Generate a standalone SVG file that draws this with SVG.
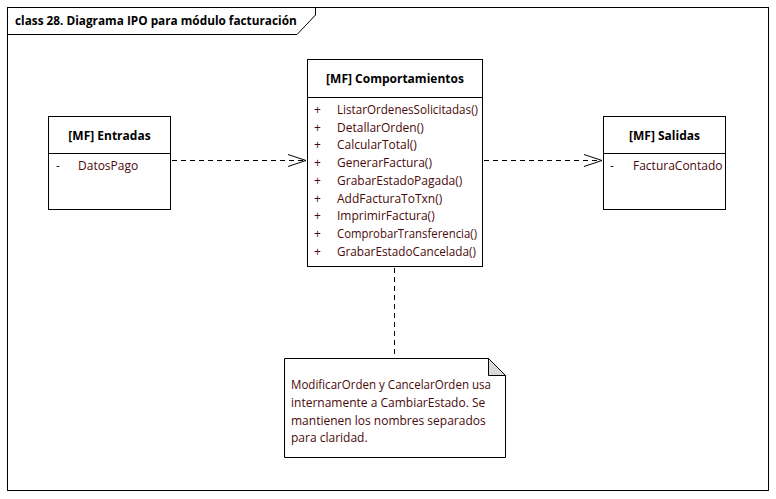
<svg xmlns="http://www.w3.org/2000/svg" width="776" height="499" viewBox="0 0 776 499">
<defs>
<style>
.box{fill:#fff;stroke:#000;stroke-width:1}
.hdr{font-family:"Open Sans","Liberation Sans",sans-serif;font-size:12px;font-weight:bold;fill:#000;text-anchor:middle}
.it{font-family:"Open Sans","Liberation Sans",sans-serif;font-size:12px;fill:#4a0a0a}
.title{font-family:"Open Sans","Liberation Sans",sans-serif;font-size:11.8px;font-weight:bold;fill:#000}
.dash{fill:none;stroke:#000;stroke-width:1;stroke-dasharray:5,4}
</style>
<marker id="open" markerWidth="20" markerHeight="14" refX="18" refY="7" orient="auto" markerUnits="userSpaceOnUse">
<path d="M0,1 L18,7 L0,13" fill="none" stroke="#000" stroke-width="1"/>
</marker>
</defs>
<rect x="0" y="0" width="776" height="499" fill="#fff"/>
<g id="frame">
<rect x="7.5" y="7.5" width="761" height="483" fill="none" stroke="#000"/>
<path d="M7.5,34.5 H297 L315.5,15 V7.5" fill="none" stroke="#000"/>
<text class="title" x="15" y="25">class 28. Diagrama IPO para módulo facturación</text>
</g>
<g id="connectors">
<line class="dash" x1="172" y1="160.5" x2="306" y2="160.5" marker-end="url(#open)"/>
<line class="dash" x1="484" y1="160.5" x2="602" y2="160.5" marker-end="url(#open)"/>
<line class="dash" x1="394.5" y1="268" x2="394.5" y2="358"/>
</g>
<g id="entradas">
<rect class="box" x="48.5" y="116.5" width="122" height="93"/>
<line x1="48.5" y1="153.5" x2="170.5" y2="153.5" stroke="#000"/>
<text class="hdr" x="109.5" y="140">[MF] Entradas</text>
<text class="it" x="56" y="170">-</text>
<text class="it" x="78" y="170">DatosPago</text>
</g>
<g id="comportamientos">
<rect class="box" x="307.5" y="59.5" width="175" height="207"/>
<line x1="307.5" y1="97.5" x2="482.5" y2="97.5" stroke="#000"/>
<text class="hdr" x="395" y="83">[MF] Comportamientos</text>
<text class="it" x="314" y="114">+</text><text class="it" x="337" y="114" textLength="141" lengthAdjust="spacingAndGlyphs">ListarOrdenesSolicitadas()</text>
<text class="it" x="314" y="131.7">+</text><text class="it" x="337" y="131.7">DetallarOrden()</text>
<text class="it" x="314" y="149.4">+</text><text class="it" x="337" y="149.4">CalcularTotal()</text>
<text class="it" x="314" y="167.1">+</text><text class="it" x="337" y="167.1">GenerarFactura()</text>
<text class="it" x="314" y="184.8">+</text><text class="it" x="337" y="184.8">GrabarEstadoPagada()</text>
<text class="it" x="314" y="202.5">+</text><text class="it" x="337" y="202.5">AddFacturaToTxn()</text>
<text class="it" x="314" y="220.2">+</text><text class="it" x="337" y="220.2">ImprimirFactura()</text>
<text class="it" x="314" y="237.9">+</text><text class="it" x="337" y="237.9" textLength="140" lengthAdjust="spacingAndGlyphs">ComprobarTransferencia()</text>
<text class="it" x="314" y="255.6">+</text><text class="it" x="337" y="255.6" textLength="139" lengthAdjust="spacingAndGlyphs">GrabarEstadoCancelada()</text>
</g>
<g id="salidas">
<rect class="box" x="603.5" y="116.5" width="122" height="93"/>
<line x1="603.5" y1="153.5" x2="725.5" y2="153.5" stroke="#000"/>
<text class="hdr" x="664.5" y="140">[MF] Salidas</text>
<text class="it" x="610" y="170">-</text>
<text class="it" x="633" y="170">FacturaContado</text>
</g>
<g id="nota">
<path d="M284.5,358.5 H488.5 L505.5,375.5 V457.5 H284.5 Z" fill="#fff" stroke="#000"/>
<path d="M488.5,358.5 V375.5 H505.5 Z" fill="#d9d9d9" stroke="#000"/>
<text class="it" x="291" y="389" textLength="200" lengthAdjust="spacingAndGlyphs">ModificarOrden y CancelarOrden usa</text>
<text class="it" x="291" y="407">internamente a CambiarEstado. Se</text>
<text class="it" x="291" y="425">mantienen los nombres separados</text>
<text class="it" x="291" y="442">para claridad.</text>
</g>
</svg>
